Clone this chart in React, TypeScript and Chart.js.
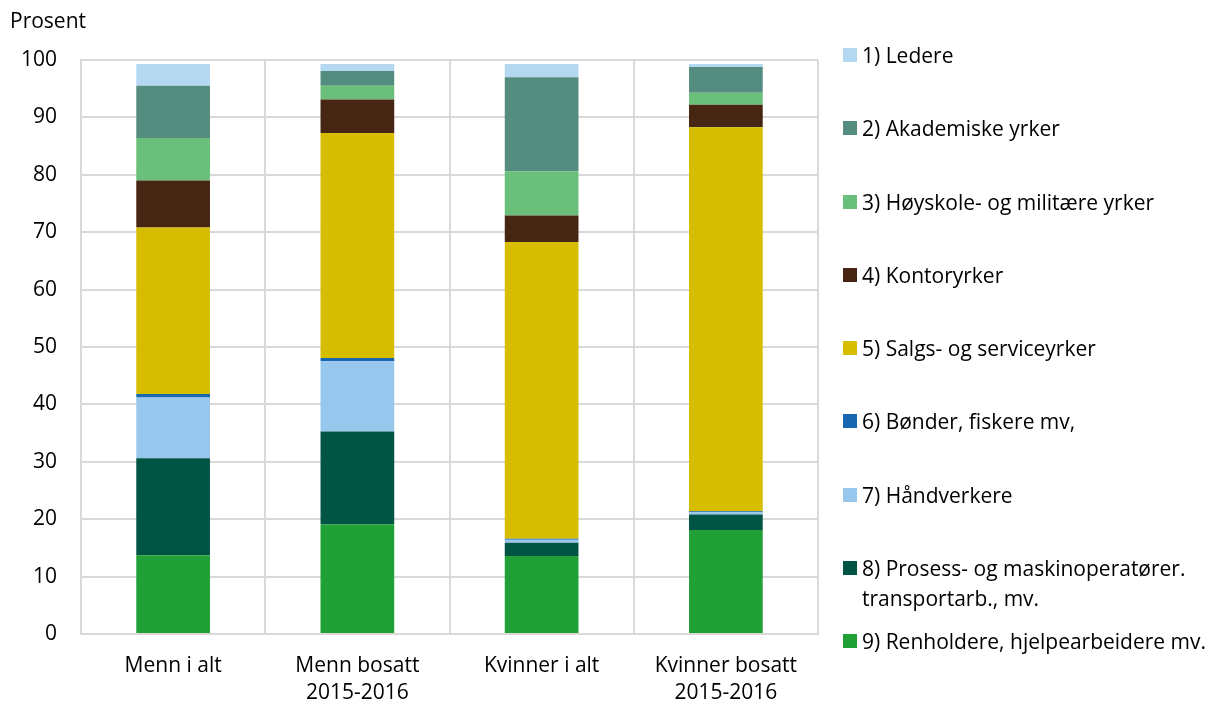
import React, { useEffect, useRef } from "react";
import { Chart, registerables } from "chart.js";

Chart.register(...registerables);

const categories: (string | string[])[] = [
  "Menn i alt",
  ["Menn bosatt", "2015-2016"],
  "Kvinner i alt",
  ["Kvinner bosatt", "2015-2016"],
];

const seriesNames: string[][] = [
  ["1) Ledere"],
  ["2) Akademiske yrker"],
  ["3) Høyskole- og militære yrker"],
  ["4) Kontoryrker"],
  ["5) Salgs- og serviceyrker"],
  ["6) Bønder, fiskere mv,"],
  ["7) Håndverkere"],
  ["8) Prosess- og maskinoperatører.", "transportarb., mv."],
  ["9) Renholdere, hjelpearbeidere mv."],
];

const colors = [
  "#b5d8f1",
  "#548c7f",
  "#6abf7a",
  "#472513",
  "#d6bd00",
  "#1667b0",
  "#97c7ec",
  "#005444",
  "#21a038",
];

const ledere = [3.8, 1.2, 2.3, 0.5];
const akademiske = [9.1, 2.6, 16.4, 4.5];
const hoyskole = [7.4, 2.4, 7.7, 2.1];
const kontor = [8.2, 5.8, 4.6, 3.9];
const salgs = [29.0, 39.2, 51.7, 66.9];
const bonder = [0.6, 0.6, 0.2, 0.2];
const handverkere = [10.6, 12.2, 0.5, 0.4];
const prosess = [16.9, 16.2, 2.3, 2.7];
const renholdere = [13.7, 19.1, 13.6, 18.1];

const seriesValues = [
  ledere,
  akademiske,
  hoyskole,
  kontor,
  salgs,
  bonder,
  handverkere,
  prosess,
  renholdere,
];

const yTicks = [0, 10, 20, 30, 40, 50, 60, 70, 80, 90, 100];

const FONT = "'Open Sans', 'Noto Sans', sans-serif";
const FS = 21;
const GRID = "#d9d9d9";

export default function App() {
  const ref = useRef<HTMLCanvasElement | null>(null);

  useEffect(() => {
    document.body.style.margin = "0";
    if (!ref.current) return;
    const datasets = seriesValues
      .map((vals, i) => ({
        label: seriesNames[i].join(" "),
        data: vals,
        backgroundColor: colors[i],
        borderWidth: 0,
        barPercentage: 0.4,
        categoryPercentage: 1,
      }))
      .reverse();
    const chart = new Chart(ref.current, {
      type: "bar",
      data: { labels: categories as any, datasets },
      options: {
        animation: false,
        responsive: true,
        maintainAspectRatio: false,
        layout: { padding: { left: 22, right: 395, top: 60, bottom: 0 } },
        plugins: {
          legend: { display: false },
          tooltip: { enabled: false },
        },
        scales: {
          x: {
            stacked: true,
            afterFit: (axis: any) => {
              axis.height = 70;
            },
            grid: { color: GRID, lineWidth: 2, drawTicks: false, offset: true },
            border: { color: GRID, width: 2 },
            ticks: {
              color: "#000",
              padding: 18,
              font: { family: FONT, size: FS, lineHeight: 1.3 },
            },
          },
          y: {
            stacked: true,
            min: 0,
            max: 100,
            afterFit: (axis: any) => {
              axis.width = 59;
            },
            afterBuildTicks: (axis: any) => {
              axis.ticks = yTicks.map((v) => ({ value: v }));
            },
            grid: { color: GRID, lineWidth: 2, drawTicks: false },
            border: { color: GRID, width: 2 },
            ticks: {
              color: "#000",
              padding: 24,
              font: { family: FONT, size: FS },
            },
          },
        },
      },
    });
    return () => chart.destroy();
  }, []);

  const step = 73.25;
  return (
    <div
      style={{
        position: "fixed",
        left: 0,
        top: 0,
        width: 1213,
        height: 704,
        fontFamily: FONT,
        color: "#000",
        background: "#fff",
      }}
    >
      <canvas ref={ref} />
      <div
        style={{
          position: "absolute",
          left: 10,
          top: 5,
          fontSize: FS,
          lineHeight: "30px",
        }}
      >
        Prosent
      </div>
      {seriesNames.map((lines, i) => (
        <div
          key={i}
          style={{
            position: "absolute",
            left: 843,
            top: 55 + step * i - 15,
            fontSize: FS,
            lineHeight: "30px",
          }}
        >
          <span
            style={{
              position: "absolute",
              left: 0,
              top: 8,
              width: 14,
              height: 14,
              background: colors[i],
            }}
          />
          <div style={{ marginLeft: 19, whiteSpace: "nowrap" }}>
            {lines.map((l, j) => (
              <div key={j}>{l}</div>
            ))}
          </div>
        </div>
      ))}
    </div>
  );
}
